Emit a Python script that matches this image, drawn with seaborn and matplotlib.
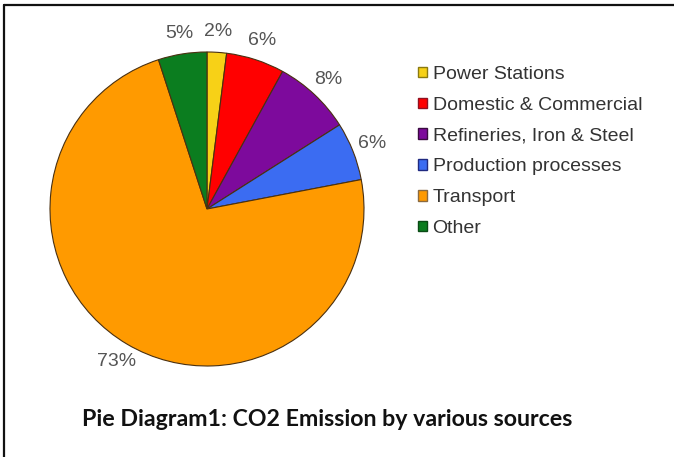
import matplotlib
matplotlib.use("Agg")
import matplotlib.pyplot as plt
import seaborn as sns
from matplotlib.patches import Patch
from matplotlib.lines import Line2D

categories = ["Power Stations", "Domestic & Commercial", "Refineries, Iron & Steel",
              "Production processes", "Transport", "Other"]
values = [2, 6, 8, 6, 73, 5]
colors = ["#f7d117", "#ff0000", "#7d0a9c", "#3b6cf2", "#ff9a00", "#0b7d1f"]
legend_edges = ["#8a7a10", "#901020", "#3a0a40", "#202a80", "#8a6a40", "#0a4a15"]
title = "Pie Diagram1: CO2 Emission by various sources"

sns.set_theme(style="white")
plt.rcParams["font.family"] = ["Liberation Sans", "DejaVu Sans"]

W, H = 674, 457
fig = plt.figure(figsize=(W / 100, H / 100), dpi=100)
fig.patch.set_facecolor("white")

cx, cy, r = 207, 209, 157
ax = fig.add_axes([(cx - r) / W, (H - cy - r) / H, 2 * r / W, 2 * r / H])
wedges, texts, autotexts = ax.pie(
    values, colors=colors, startangle=90, counterclock=False,
    autopct="%1.0f%%", pctdistance=1.13,
    wedgeprops=dict(edgecolor="#4a3010", linewidth=0.8),
    textprops=dict(color="#555555", fontsize=14),
)
ax.set_xlim(-1, 1)
ax.set_ylim(-1, 1)
ax.set_aspect("equal")
ax.axis("off")

handles = [Patch(facecolor=c, edgecolor=e, linewidth=1.0) for c, e in zip(colors, legend_edges)]
leg = fig.legend(handles, categories, loc="upper left",
                 bbox_to_anchor=(418 / W, 1 - 66 / H), frameon=False,
                 fontsize=14, handlelength=0.45, handleheight=0.45,
                 handletextpad=0.3, labelspacing=0.71, borderaxespad=0, borderpad=0)
for t in leg.get_texts():
    t.set_color("#333333")

fig.text(327 / W, 1 - 419 / H, title, ha="center", va="center",
         fontsize=16.7, fontweight="bold", family=["Lato", "DejaVu Sans"], color="#111111")

fig.add_artist(Line2D([4 / W, 1], [1 - 5 / H, 1 - 5 / H], transform=fig.transFigure,
                      color="#111111", linewidth=1.6))
fig.add_artist(Line2D([4 / W, 4 / W], [1 - 5 / H, 0], transform=fig.transFigure,
                      color="#111111", linewidth=1.6))

fig.savefig("out.png", dpi=100)
